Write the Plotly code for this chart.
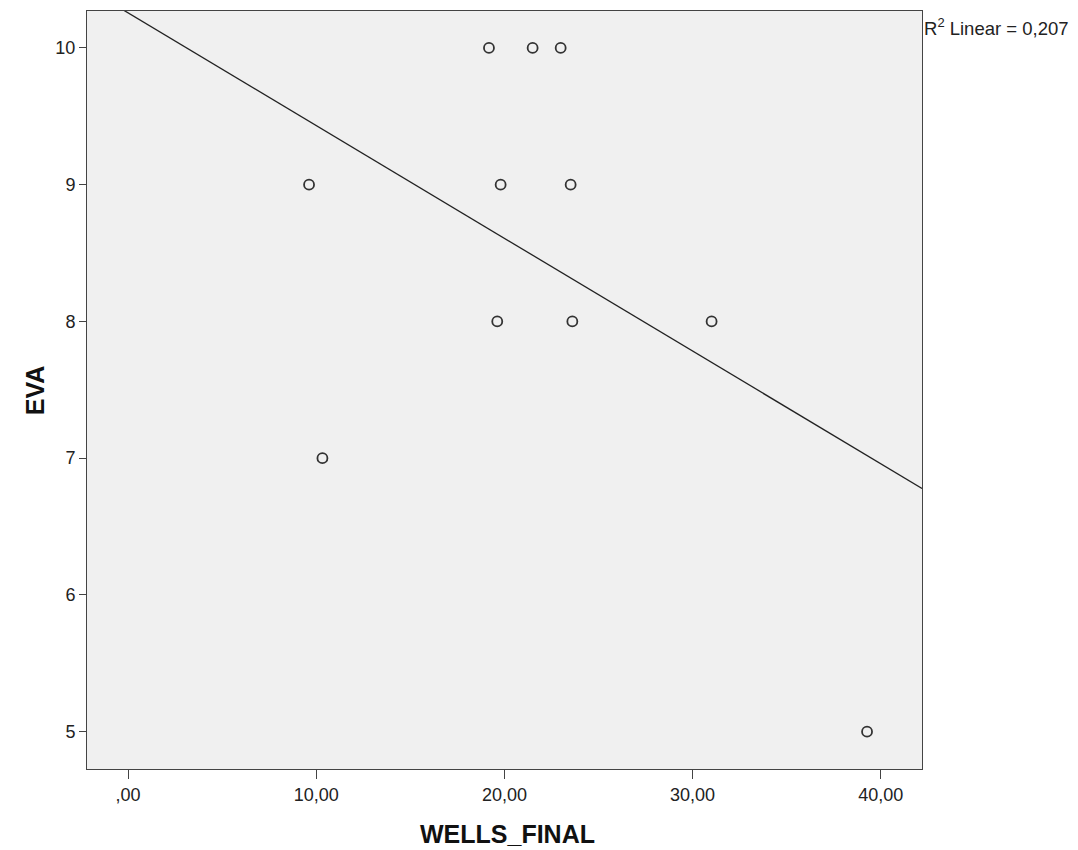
import numpy as np
import plotly.graph_objects as go

# Data
wells_final = [19.18, 21.50, 22.99, 9.62, 19.80, 23.52, 19.62, 23.61, 31.01, 10.33, 39.27]
eva = [10, 10, 10, 9, 9, 9, 8, 8, 8, 7, 5]

x_tickvals = [0, 10, 20, 30, 40]
x_ticktext = [",00", "10,00", "20,00", "30,00", "40,00"]
y_tickvals = [5, 6, 7, 8, 9, 10]
y_ticktext = ["5", "6", "7", "8", "9", "10"]

x_range = [-2.18, 42.19]
y_range = [4.727, 10.27]

# Linear fit
slope, intercept = np.polyfit(wells_final, eva, 1)
pred = slope * np.array(wells_final) + intercept
ss_res = np.sum((np.array(eva) - pred) ** 2)
ss_tot = np.sum((np.array(eva) - np.mean(eva)) ** 2)
r2 = 1 - ss_res / ss_tot
fit_x = np.array(x_range)
fit_y = slope * fit_x + intercept

font_family = "Liberation Sans, Arial, sans-serif"

fig = go.Figure()
fig.add_trace(go.Scatter(
    x=fit_x, y=fit_y, mode="lines",
    line=dict(color="#222222", width=1.3),
    hoverinfo="skip", showlegend=False,
))
fig.add_trace(go.Scatter(
    x=wells_final, y=eva, mode="markers",
    marker=dict(symbol="circle-open", size=10, color="#333333", line=dict(width=1.8, color="#333333")),
    showlegend=False,
))

fig.update_layout(
    width=1070, height=842,
    margin=dict(l=79, r=156, t=3, b=81),
    paper_bgcolor="white",
    plot_bgcolor="#f0f0f0",
    font=dict(family=font_family, size=18, color="#222222"),
    xaxis=dict(
        range=x_range, tickvals=x_tickvals, ticktext=x_ticktext,
        showgrid=False, zeroline=False,
        showline=True, linecolor="#444444", linewidth=1, mirror=True,
        ticks="outside", ticklen=9, tickcolor="#444444", tickwidth=1,
        tickfont=dict(size=18, color="#222222"),
    ),
    yaxis=dict(
        range=y_range, tickvals=y_tickvals, ticktext=y_ticktext,
        showgrid=False, zeroline=False,
        showline=True, linecolor="#444444", linewidth=1, mirror=True,
        ticks="outside", ticklen=7, tickcolor="#444444", tickwidth=1,
        tickfont=dict(size=18, color="#222222"),
    ),
    annotations=[
        dict(text="<b>WELLS_FINAL</b>", xref="paper", yref="paper", x=0.503, y=-0.0858,
             xanchor="center", yanchor="middle", showarrow=False,
             font=dict(size=25, color="#111111", family=font_family)),
        dict(text="<b>EVA</b>", xref="paper", yref="paper", x=-0.062, y=0.5,
             xanchor="center", yanchor="middle", textangle=-90, showarrow=False,
             font=dict(size=25, color="#111111", family=font_family)),
        dict(text="R<sup>2</sup> Linear = " + f"{r2:.3f}".replace(".", ","),
             xref="paper", yref="paper", x=1.0, y=0.979,
             xanchor="left", yanchor="middle", showarrow=False,
             font=dict(size=18.5, color="#222222", family=font_family)),
    ],
)

fig.write_html("out.html")
